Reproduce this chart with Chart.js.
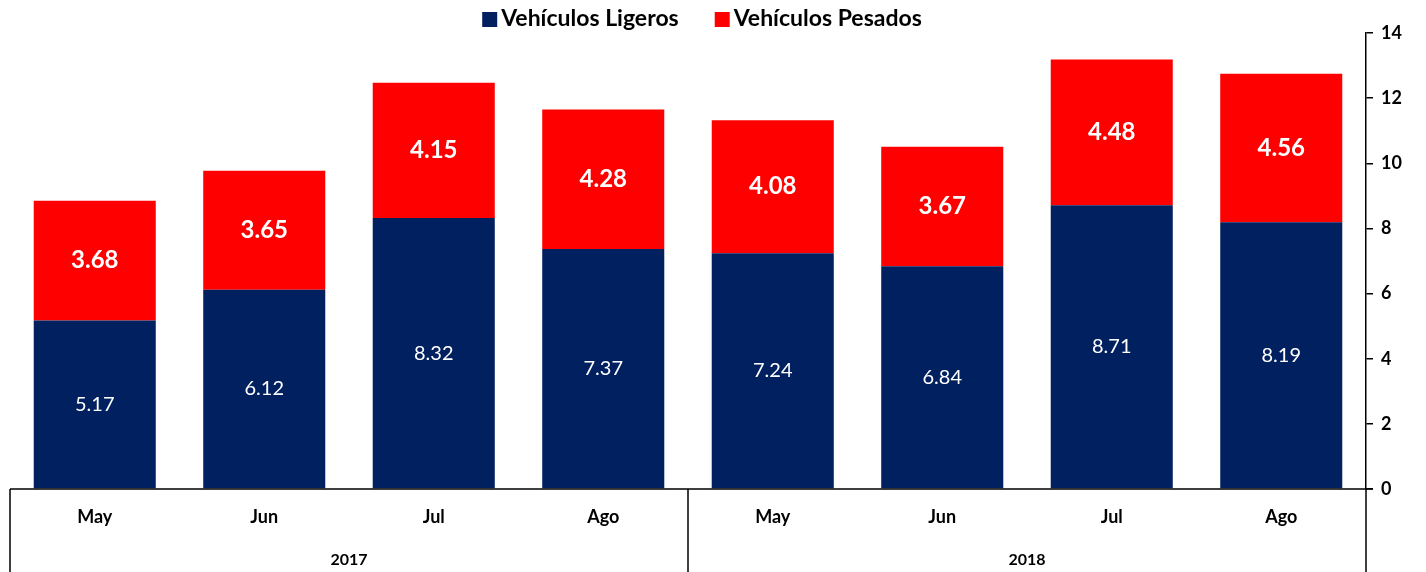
<!DOCTYPE html>
<html>
<head>
<meta charset="utf-8">
<script src="https://cdn.jsdelivr.net/npm/chart.js@4"></script>
<style>
  html, body { margin: 0; padding: 0; background: #fff; }
  #wrap { width: 1426px; height: 572px; }
</style>
</head>
<body>
<div id="wrap"><canvas id="chart"></canvas></div>
<script>
const months = ['May', 'Jun', 'Jul', 'Ago', 'May', 'Jun', 'Jul', 'Ago'];
const years = ['2017', '2018'];
const ligeros = [5.17, 6.12, 8.32, 7.37, 7.24, 6.84, 8.71, 8.19];
const pesados = [3.68, 3.65, 4.15, 4.28, 4.08, 3.67, 4.48, 4.56];
const yTicks = [0, 2, 4, 6, 8, 10, 12, 14];

const FONT = 'Lato, "Open Sans", sans-serif';

// leyenda, etiquetas dentro de las barras y eje de categorias de dos niveles
const labelsPlugin = {
    id: 'labelsPlugin',
    afterDatasetsDraw(chart) {
        const ctx = chart.ctx;
        ctx.save();
        ctx.textAlign = 'center';
        ctx.textBaseline = 'middle';
        ctx.fillStyle = '#ffffff';
        chart.data.datasets.forEach((ds, i) => {
            const meta = chart.getDatasetMeta(i);
            ctx.font = (i === 1 ? 'bold 24px ' : '20px ') + FONT;
            meta.data.forEach((bar, j) => {
                const mid = (bar.y + bar.base) / 2;
                ctx.fillText(ds.data[j].toFixed(2), bar.x, mid);
            });
        });
        ctx.restore();
    },
    afterDraw(chart) {
        const ctx = chart.ctx;
        const area = chart.chartArea;
        const x = chart.scales.x;
        const bottom = chart.height;
        ctx.save();

        // leyenda
        ctx.font = 'bold 23px ' + FONT;
        ctx.textBaseline = 'middle';
        ctx.textAlign = 'left';
        const items = chart.data.datasets.map(ds => ({
            text: ds.label, color: ds.backgroundColor, w: ctx.measureText(ds.label).width
        }));
        const box = 15, gapBox = 4, gapItem = 36;
        let total = 0;
        items.forEach((it, i) => { total += box + gapBox + it.w + (i ? gapItem : 0); });
        let lx = (area.left + area.right) / 2 - total / 2 + 14;
        items.forEach(it => {
            ctx.fillStyle = it.color;
            ctx.fillRect(lx, 12, box, box);
            ctx.fillStyle = '#000';
            ctx.fillText(it.text, lx + box + gapBox, 19);
            lx += box + gapBox + it.w + gapItem;
        });

        ctx.strokeStyle = '#000';
        ctx.lineWidth = 1.5;
        ctx.beginPath();
        ctx.moveTo(area.left, area.bottom);
        ctx.lineTo(area.right + 7, area.bottom);
        ctx.moveTo(area.left, area.bottom);
        ctx.lineTo(area.left, bottom);
        const midX = (x.getPixelForValue(3) + x.getPixelForValue(4)) / 2;
        ctx.moveTo(midX, area.bottom);
        ctx.lineTo(midX, bottom);
        ctx.moveTo(area.right, area.bottom);
        ctx.lineTo(area.right, bottom);
        ctx.stroke();

        ctx.fillStyle = '#000';
        ctx.textAlign = 'center';
        ctx.textBaseline = 'middle';
        ctx.font = 'bold 18px ' + FONT;
        months.forEach((m, i) => {
            ctx.fillText(m, x.getPixelForValue(i), area.bottom + 28);
        });
        ctx.font = 'bold 16px ' + FONT;
        years.forEach((yr, k) => {
            const cx = (x.getPixelForValue(k * 4 + 1) + x.getPixelForValue(k * 4 + 2)) / 2;
            ctx.fillText(yr, cx, area.bottom + 71);
        });
        ctx.restore();
    }
};

new Chart(document.getElementById('chart'), {
    type: 'bar',
    data: {
        labels: months,
        datasets: [
            {
                label: 'Vehículos Ligeros',
                data: ligeros,
                backgroundColor: '#002060',
                categoryPercentage: 1,
                barPercentage: 0.72
            },
            {
                label: 'Vehículos Pesados',
                data: pesados,
                backgroundColor: '#ff0000',
                categoryPercentage: 1,
                barPercentage: 0.72
            }
        ]
    },
    options: {
        responsive: true,
        maintainAspectRatio: false,
        animation: false,
        layout: { padding: { left: 10, right: 0, top: 33, bottom: 83 } },
        plugins: {
            legend: { display: false },
            tooltip: { enabled: false }
        },
        scales: {
            x: {
                stacked: true,
                display: false
            },
            y: {
                stacked: true,
                position: 'right',
                min: 0,
                max: 14,
                afterBuildTicks(scale) {
                    scale.ticks = yTicks.map(v => ({ value: v }));
                },
                afterFit(scale) {
                    scale.width = 60;
                },
                border: { display: true, color: '#000', width: 1.5 },
                grid: {
                    drawOnChartArea: false,
                    drawTicks: true,
                    tickLength: 7,
                    color: '#000',
                    lineWidth: 1.5
                },
                ticks: {
                    color: '#000',
                    padding: 8,
                    font: { family: FONT, size: 18, weight: 'bold' }
                }
            }
        }
    },
    plugins: [labelsPlugin]
});
</script>
</body>
</html>
